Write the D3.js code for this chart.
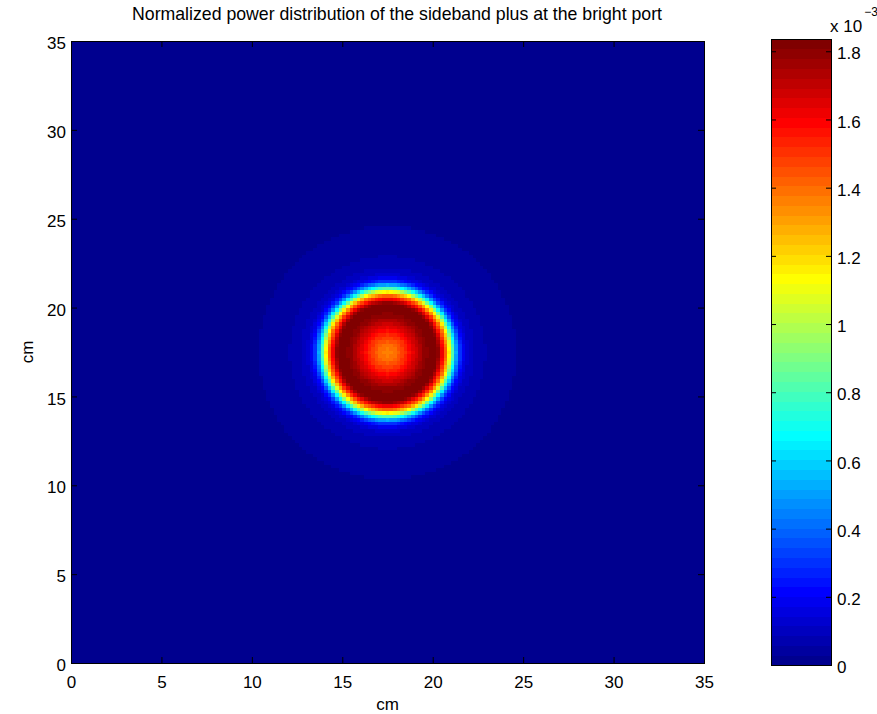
<!DOCTYPE html>
<html>
<head>
<meta charset="utf-8">
<script src="https://cdn.jsdelivr.net/npm/d3@7/dist/d3.min.js"></script>
<style>
  body { margin: 0; background: #fff; }
  text { font-family: "Liberation Sans", Arial, Helvetica, sans-serif; fill: #000; }
</style>
</head>
<body>
<svg id="chart" width="877" height="714"></svg>
<script>
// radial profile of the sideband power around the beam centre,
// power in units of 1e-3
var radiusCm = [0, 0.5, 1.0, 1.5, 2.0, 2.4, 2.6, 2.8, 3.0, 3.2, 3.4, 3.6, 3.8, 4.0,
                4.2, 4.4, 4.7, 5.0, 5.5, 6.0, 6.5, 7.0, 7.5, 8.0, 9.0, 10, 12, 30];
var powerE3  = [1.35, 1.41, 1.52, 1.66, 1.78, 1.83, 1.84, 1.80, 1.62, 1.42, 1.15, 0.82, 0.52, 0.30,
                0.18, 0.12, 0.09, 0.07, 0.055, 0.045, 0.035, 0.03, 0.025, 0.02, 0.01, 0.005, 0, 0];
var beamCentre = [17.5, 17.5];   // cm
var fieldSize = 35;              // cm
var cellSize = 0.2;              // cm
var colorMax = 1.836;            // top of the colour bar, 1e-3

var xTicks = [0, 5, 10, 15, 20, 25, 30, 35];
var yTicks = [0, 5, 10, 15, 20, 25, 30, 35];
var cbTicks = [0, 0.2, 0.4, 0.6, 0.8, 1.0, 1.2, 1.4, 1.6, 1.8];
var cbTickLabels = ["0", "0.2", "0.4", "0.6", "0.8", "1", "1.2", "1.4", "1.6", "1.8"];

var titleText = "Normalized power distribution of the sideband plus at the bright port";

var svg = d3.select("#chart");
var plot = {left: 71, right: 704, top: 41, bottom: 663};
var cbar = {left: 771, right: 831, top: 39, bottom: 665};

var x = d3.scaleLinear().domain([0, fieldSize]).range([plot.left, plot.right]);
var y = d3.scaleLinear().domain([0, fieldSize]).range([plot.bottom, plot.top]);
var cb = d3.scaleLinear().domain([0, colorMax]).range([cbar.bottom, cbar.top]);

// MATLAB jet(64)
var jet = d3.range(64).map(function(i) {
  var t = (i + 1) / 64;
  function c(v) { return Math.round(255 * Math.max(0, Math.min(1, v))); }
  return d3.rgb(c(1.5 - Math.abs(4 * t - 3)), c(1.5 - Math.abs(4 * t - 2)), c(1.5 - Math.abs(4 * t - 1))).toString();
});
var color = d3.scaleQuantize().domain([0, colorMax]).range(jet);
var profile = d3.scaleLinear().domain(radiusCm).range(powerE3).clamp(true);

// heat map cells
var n = Math.round(fieldSize / cellSize), cells = [];
for (var i = 0; i < n; i++) {
  for (var j = 0; j < n; j++) {
    var cx = (i + 0.5) * cellSize, cy = (j + 0.5) * cellSize;
    var r = Math.hypot(cx - beamCentre[0], cy - beamCentre[1]);
    cells.push({x0: i * cellSize, y0: j * cellSize, v: profile(r)});
  }
}

svg.append("g")
  .attr("shape-rendering", "crispEdges")
  .selectAll("rect")
  .data(cells)
  .enter().append("rect")
    .attr("x", function(d) { return x(d.x0); })
    .attr("y", function(d) { return y(d.y0 + cellSize); })
    .attr("width", x(cellSize) - x(0) + 0.6)
    .attr("height", y(0) - y(cellSize) + 0.6)
    .attr("fill", function(d) { return color(d.v); });

// axes (ticks point inward, box on)
var tickLen = 6;
var gx = svg.append("g").attr("transform", "translate(0," + plot.bottom + ")")
  .call(d3.axisBottom(x).tickValues(xTicks).tickSize(-tickLen).tickPadding(13).tickFormat(d3.format("d")));
var gy = svg.append("g").attr("transform", "translate(" + plot.left + ",0)")
  .call(d3.axisLeft(y).tickValues(yTicks).tickSize(-tickLen).tickPadding(5).tickFormat(d3.format("d")));
var gxt = svg.append("g").attr("transform", "translate(0," + plot.top + ")")
  .call(d3.axisTop(x).tickValues(xTicks).tickSize(-tickLen).tickFormat(""));
var gyr = svg.append("g").attr("transform", "translate(" + plot.right + ",0)")
  .call(d3.axisRight(y).tickValues(yTicks).tickSize(-tickLen).tickFormat(""));

[gx, gy, gxt, gyr].forEach(function(g) {
  g.select(".domain").remove();
  g.selectAll("line").attr("stroke", "#000");
  g.selectAll("text").style("font-size", "17px").style("font-family", null);
});
gy.selectAll("text").attr("dy", "0.45em");

svg.append("rect")
  .attr("x", plot.left).attr("y", plot.top)
  .attr("width", plot.right - plot.left).attr("height", plot.bottom - plot.top)
  .attr("fill", "none").attr("stroke", "#000").attr("shape-rendering", "crispEdges");

// titles
svg.append("text")
  .attr("x", 397).attr("y", 20)
  .attr("text-anchor", "middle").style("font-size", "17.7px")
  .text(titleText);
svg.append("text")
  .attr("x", (plot.left + plot.right) / 2).attr("y", 710)
  .attr("text-anchor", "middle").style("font-size", "17px")
  .text("cm");
svg.append("text")
  .attr("transform", "translate(33," + ((plot.top + plot.bottom) / 2) + ") rotate(-90)")
  .attr("text-anchor", "middle").style("font-size", "17px")
  .text("cm");

// colour bar
svg.append("g")
  .attr("shape-rendering", "crispEdges")
  .selectAll("rect")
  .data(jet)
  .enter().append("rect")
    .attr("x", cbar.left)
    .attr("width", cbar.right - cbar.left)
    .attr("y", function(d, k) { return cb((k + 1) * colorMax / 64); })
    .attr("height", function(d, k) { return cb(k * colorMax / 64) - cb((k + 1) * colorMax / 64) + 0.6; })
    .attr("fill", function(d) { return d; });

var gcb = svg.append("g").attr("transform", "translate(" + cbar.right + ",0)")
  .call(d3.axisRight(cb).tickValues(cbTicks).tickSize(-5).tickPadding(6)
    .tickFormat(function(d, k) { return cbTickLabels[k]; }));
var gcbl = svg.append("g").attr("transform", "translate(" + cbar.left + ",0)")
  .call(d3.axisLeft(cb).tickValues(cbTicks).tickSize(-5).tickFormat(""));
[gcb, gcbl].forEach(function(g) {
  g.select(".domain").remove();
  g.selectAll("line").attr("stroke", "#000");
  g.selectAll("text").style("font-size", "17px").style("font-family", null).attr("dy", "0.45em");
});
svg.append("rect")
  .attr("x", cbar.left).attr("y", cbar.top)
  .attr("width", cbar.right - cbar.left).attr("height", cbar.bottom - cbar.top)
  .attr("fill", "none").attr("stroke", "#000").attr("shape-rendering", "crispEdges");

var expo = svg.append("text").attr("x", 830).attr("y", 32).style("font-size", "17px");
expo.append("tspan").text("x 10");
expo.append("tspan").attr("dx", 2).attr("dy", -16).style("font-size", "12px").text("\u22123");
</script>
</body>
</html>
